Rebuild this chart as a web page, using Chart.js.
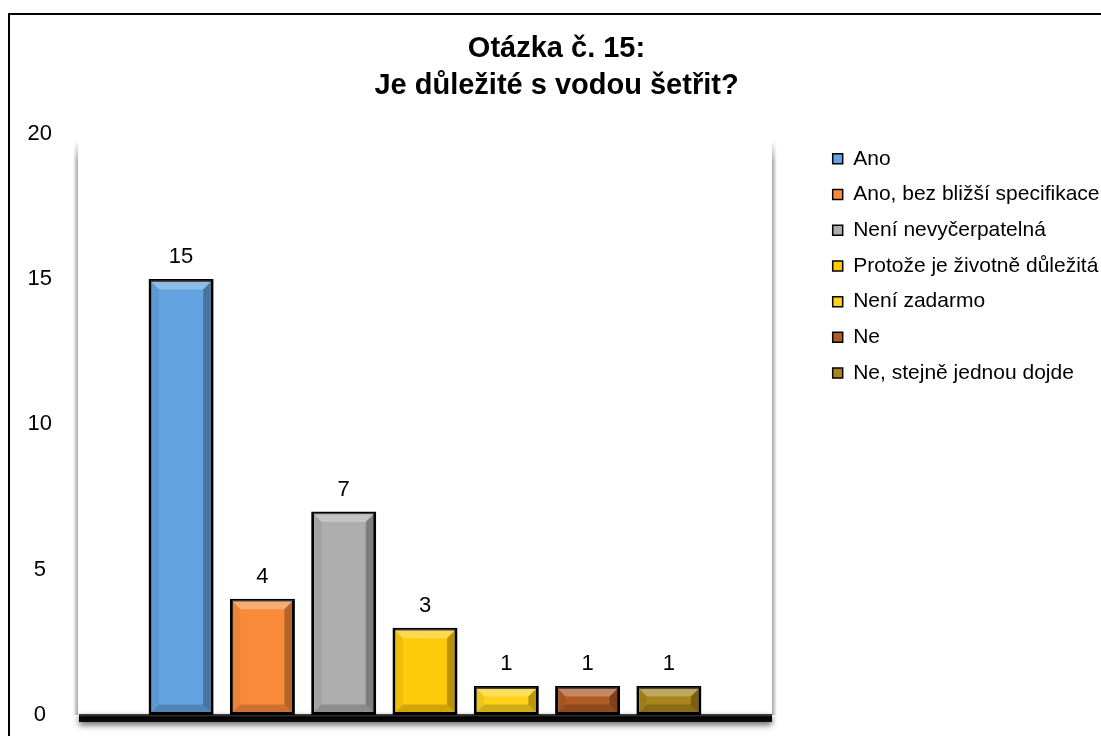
<!DOCTYPE html>
<html>
<head>
<meta charset="utf-8">
<script src="https://cdn.jsdelivr.net/npm/chart.js@4.4.1/dist/chart.umd.min.js"></script>
<style>
html,body{margin:0;padding:0;background:#fff;}
#wrap{position:absolute;left:0;top:0;width:1101px;height:736px;}
</style>
</head>
<body>
<div id="wrap"><canvas id="c" width="1101" height="736"></canvas></div>
<script>
const titleLines = ["Otázka č. 15:", "Je důležité s vodou šetřit?"];
const categories = ["Ano", "Ano, bez bližší specifikace", "Není nevyčerpatelná", "Protože je životně důležitá", "Není zadarmo", "Ne", "Ne, stejně jednou dojde"];
const values = [15, 4, 7, 3, 1, 1, 1];
const colors = ["#62a3e0", "#f98b3b", "#adadad", "#ffca0a", "#ffd21a", "#b05a24", "#a8841a"];
const yTicks = [0, 5, 10, 15, 20];

const FONT = "'Liberation Sans', Arial, sans-serif";

const decor = {
  id: 'decor',
  beforeDraw(chart) {
    const ctx = chart.ctx, a = chart.chartArea;
    ctx.save();
    ctx.fillStyle = '#fff';
    ctx.fillRect(0, 0, chart.width, chart.height);
    // outer frame
    ctx.strokeStyle = '#000';
    ctx.lineWidth = 2;
    ctx.strokeRect(9, 14, 2000, 2000);
    // plot area side shadows
    const top = a.top + 6, bot = a.bottom;
    let g = ctx.createLinearGradient(a.left - 5, 0, a.left, 0);
    g.addColorStop(0, 'rgba(0,0,0,0)'); g.addColorStop(1, 'rgba(0,0,0,0.35)');
    ctx.fillStyle = g; ctx.fillRect(a.left - 5, top + 20, 5, bot - top - 20);
    g = ctx.createLinearGradient(a.right, 0, a.right + 5, 0);
    g.addColorStop(0, 'rgba(0,0,0,0.35)'); g.addColorStop(1, 'rgba(0,0,0,0)');
    ctx.fillStyle = g; ctx.fillRect(a.right, top + 20, 5, bot - top - 20);
    for (const [x0, x1, rev] of [[a.left - 5, a.left, false], [a.right, a.right + 5, true]]) {
      for (let i = 0; i < 20; i++) {
        const alpha = 0.35 * (i / 20);
        const gg = ctx.createLinearGradient(x0, 0, x1, 0);
        gg.addColorStop(rev ? 1 : 0, 'rgba(0,0,0,0)');
        gg.addColorStop(rev ? 0 : 1, 'rgba(0,0,0,' + alpha + ')');
        ctx.fillStyle = gg; ctx.fillRect(x0, top + i, x1 - x0, 1);
      }
    }
    // floor with shadow
    ctx.shadowColor = 'rgba(0,0,0,0.6)';
    ctx.shadowBlur = 6;
    ctx.shadowOffsetY = 3;
    const fg = ctx.createLinearGradient(0, a.bottom, 0, a.bottom + 8);
    fg.addColorStop(0, '#3a3a3a'); fg.addColorStop(0.3, '#000'); fg.addColorStop(1, '#111');
    ctx.fillStyle = fg;
    ctx.fillRect(a.left + 1, a.bottom - 1, a.right - a.left - 1, 8);
    ctx.restore();
  },
  afterDatasetsDraw(chart) {
    const ctx = chart.ctx;
    ctx.save();
    chart.data.datasets.forEach((ds, i) => {
      const meta = chart.getDatasetMeta(i);
      meta.data.forEach((bar, j) => {
        const p = bar.getProps(['x', 'y', 'base', 'width'], true);
        const bw = 1.5;
        const l = p.x - p.width / 2 + bw, r = p.x + p.width / 2 - bw;
        const t = p.y + bw, b = p.base - bw;
        const d = Math.min(9, (b - t) / 2, (r - l) / 2);
        const poly = (pts, fill) => {
          ctx.beginPath(); ctx.moveTo(pts[0][0], pts[0][1]);
          for (let k = 1; k < pts.length; k++) ctx.lineTo(pts[k][0], pts[k][1]);
          ctx.closePath(); ctx.fillStyle = fill; ctx.fill();
        };
        poly([[l, t], [r, t], [r - d, t + d], [l + d, t + d]], 'rgba(255,255,255,0.28)');
        poly([[r, t], [r, b], [r - d, b - d], [r - d, t + d]], 'rgba(0,0,0,0.28)');
        poly([[l, b], [r, b], [r - d, b - d], [l + d, b - d]], 'rgba(0,0,0,0.18)');
        poly([[l, t], [l + d, t + d], [l + d, b - d], [l, b]], 'rgba(0,0,0,0.06)');
        ctx.fillStyle = '#000';
        ctx.font = '22px ' + FONT;
        ctx.textAlign = 'center';
        ctx.textBaseline = 'middle';
        ctx.fillText(String(ds.data[j]), p.x, p.y - 22);
      });
    });
    ctx.restore();
  }
};

const datasets = categories.map((name, i) => ({
  label: name,
  data: [values[i]],
  backgroundColor: colors[i],
  borderColor: '#000',
  borderWidth: 3,
  borderSkipped: false,
  barPercentage: 0.8,
  categoryPercentage: 0.82
}));

new Chart(document.getElementById('c'), {
  type: 'bar',
  data: { labels: [''], datasets },
  plugins: [decor],
  options: {
    responsive: false,
    animation: false,
    layout: { padding: { left: 12, right: 0, top: 0, bottom: 21 } },
    plugins: {
      tooltip: { enabled: false },
      title: {
        display: true,
        text: titleLines,
        color: '#000',
        font: { family: FONT, size: 29, weight: 'bold', lineHeight: 1.27 },
        padding: { top: 31, bottom: 29 }
      },
      legend: {
        position: 'right',
        align: 'start',
        fullSize: false,
        maxWidth: 283,
        labels: {
          color: '#000',
          font: { family: FONT, size: 21 },
          boxWidth: 10,
          boxHeight: 10,
          padding: 14.7,
          generateLabels(chart) {
            const items = Chart.defaults.plugins.legend.labels.generateLabels(chart);
            items.forEach(it => { it.lineWidth = 1.5; it.strokeStyle = '#000'; });
            return items;
          }
        }
      }
    },
    scales: {
      x: { display: false, offset: true },
      y: {
        min: 0, max: 20,
        afterBuildTicks(axis) { axis.ticks = yTicks.map(v => ({ value: v })); },
        afterFit(axis) { axis.width = 66; axis.paddingTop = 0; axis.paddingBottom = 0; },
        grid: { display: false, drawTicks: false },
        border: { display: false },
        ticks: { color: '#000', font: { family: FONT, size: 22 }, padding: 26, crossAlign: 'center' }
      },
      yR: {
        position: 'right',
        display: true,
        afterFit(axis) { axis.width = 46; axis.paddingTop = 0; axis.paddingBottom = 0; },
        grid: { display: false, drawTicks: false },
        border: { display: false },
        ticks: { display: false }
      }
    }
  }
});
</script>
</body>
</html>
